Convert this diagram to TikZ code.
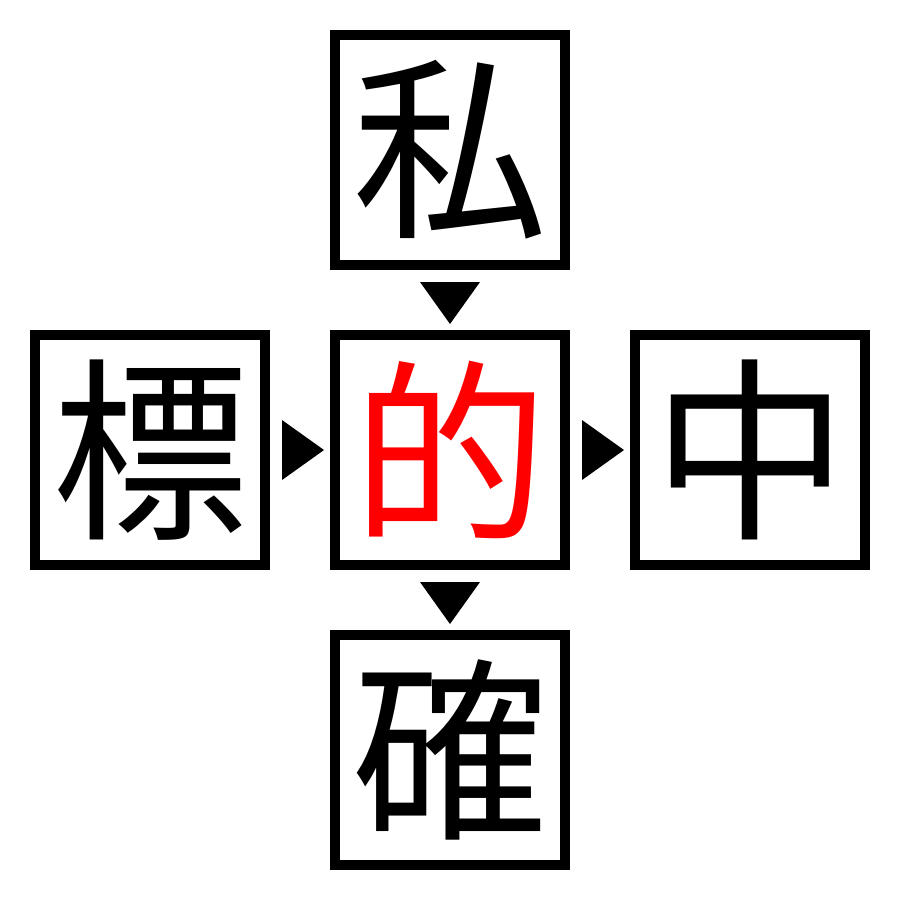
\documentclass[tikz,border=0pt]{standalone}
\usepackage{fontspec}
\newfontfamily\cjk{Noto Sans CJK JP}
\begin{document}
\begin{tikzpicture}[x=1pt,y=-1pt,
  kbox/.style={draw=black,line width=10pt,minimum width=230pt,minimum height=230pt,inner sep=0pt,
    font=\cjk\fontsize{196}{196}\selectfont,text=black},
  tri/.style={fill=black,draw=none}]
\useasboundingbox (0,0) rectangle (900,900);
\node[kbox] (top) at (450,150) {私};
\node[kbox] (left) at (150,450) {標};
\node[kbox,text={rgb,255:red,255;green,0;blue,0}] (mid) at (450,450) {的};
\node[kbox] (right) at (750,450) {中};
\node[kbox] (bot) at (450,750) {確};
% triangles
\fill[tri] ([yshift=-12pt]top.south) ++(-30,0) -- ++(60,0) -- ++(-30,42) -- cycle;
\fill[tri] ([yshift=-12pt]mid.south) ++(-30,0) -- ++(60,0) -- ++(-30,42) -- cycle;
\fill[tri] ([xshift=12pt]left.east) ++(0,-30) -- ++(0,60) -- ++(42,-30) -- cycle;
\fill[tri] ([xshift=12pt]mid.east) ++(0,-30) -- ++(0,60) -- ++(42,-30) -- cycle;
\end{tikzpicture}
\end{document}
